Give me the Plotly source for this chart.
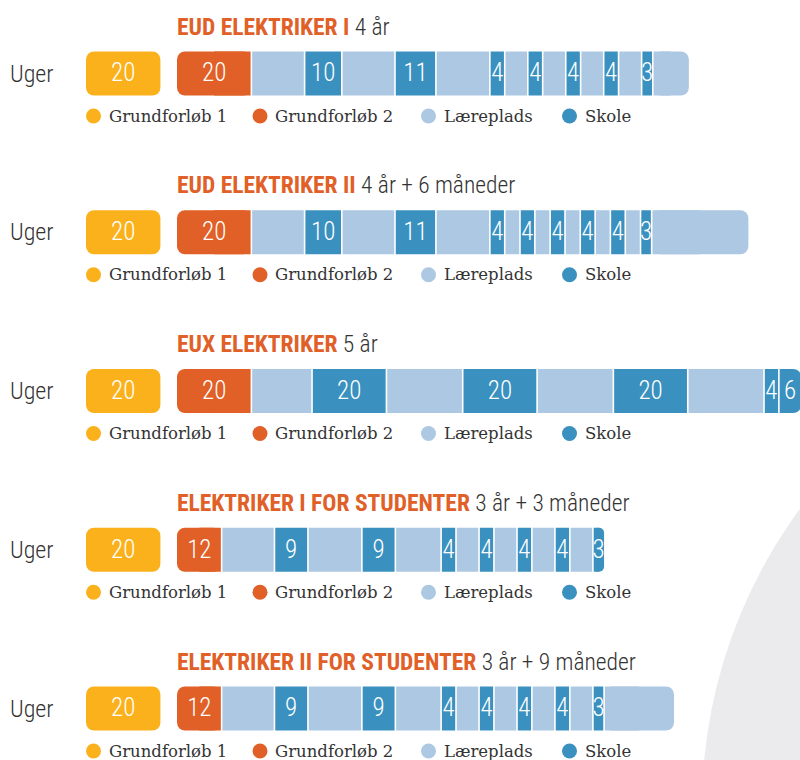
import plotly.graph_objects as go

# ---------------- data ----------------
programs = ["EUD ELEKTRIKER I", "EUD ELEKTRIKER II", "EUX ELEKTRIKER",
            "ELEKTRIKER I FOR STUDENTER", "ELEKTRIKER II FOR STUDENTER"]
durations = ["4 år", "4 år + 6 måneder", "5 år", "3 år + 3 måneder", "3 år + 9 måneder"]
row_label = "Uger"
legend_labels = ["Grundforløb 1", "Grundforløb 2", "Læreplads", "Skole"]

grundforloeb1 = [20, 20, 20, 20, 20]
grundforloeb2 = [20, 20, 20, 12, 12]

# after Grundforløb 2: L = Læreplads, S = Skole (weeks)
eud1_kinds = ["L", "S", "L", "S", "L", "S", "L", "S", "L", "S", "L", "S", "L", "S", "L"]
eud1_weeks = [14.3, 10, 14.3, 11, 14.5, 4, 6.2, 4, 6.2, 4, 6.2, 4, 6.2, 3, 9.7]

eud2_kinds = ["L", "S", "L", "S", "L", "S", "L", "S", "L", "S", "L", "S", "L", "S", "L", "S", "L"]
eud2_weeks = [14.3, 10, 14.3, 11, 14.5, 4, 4.1, 4, 4.1, 4, 4.1, 4, 4.1, 4, 4.1, 3, 26.0]

eux_kinds = ["L", "S", "L", "S", "L", "S", "L", "S", "S"]
eux_weeks = [16.3, 20, 20.5, 20, 20.5, 20, 20.5, 4, 6]

stud1_kinds = ["L", "S", "L", "S", "L", "S", "L", "S", "L", "S", "L", "S", "L", "S"]
stud1_weeks = [14.2, 9, 14.5, 9, 12.3, 4, 6.2, 4, 6.2, 4, 6.2, 4, 6.2, 3]

stud2_kinds = ["L", "S", "L", "S", "L", "S", "L", "S", "L", "S", "L", "S", "L", "S", "L"]
stud2_weeks = [14.2, 9, 14.5, 9, 12.3, 4, 6.2, 4, 6.2, 4, 6.2, 4, 6.2, 3, 18.8]

row_kinds = [eud1_kinds, eud2_kinds, eux_kinds, stud1_kinds, stud2_kinds]
row_weeks = [eud1_weeks, eud2_weeks, eux_weeks, stud1_weeks, stud2_weeks]

# ---------------- style ----------------
YELLOW = "#fbb11c"
ORANGE = "#e06027"
LIGHT = "#adc8e2"
BLUE = "#3a90bf"
DARK = "#333333"
ARC = "#ebebed"
KIND_COLOR = {"L": LIGHT, "S": BLUE}

W, H = 800, 760
PX_PER_WEEK = 3.72
X0_PX = 86            # left edge of Grundforløb 1 box
STACK_PX = 177        # left edge of the stacked bar
ROW0_PX = 73.5
ROW_PX = 158.75
BAR_PX = 44
RADIUS = 8

COND = "Roboto Condensed, Liberation Sans Narrow, DejaVu Sans Condensed, sans-serif"
SERIF = "Roboto Slab, DejaVu Serif, Liberation Serif, serif"


def xw(px):
    return (px - X0_PX) / PX_PER_WEEK


def dy(px):
    return px / ROW_PX


START = xw(STACK_PX)
BAR_W = BAR_PX / ROW_PX
rows = list(range(len(programs)))
common = dict(orientation="h", width=BAR_W, hoverinfo="skip", showlegend=False)

fig = go.Figure()

# Grundforløb 1 (rounded both ends)
fig.add_bar(y=rows, x=grundforloeb1, base=[0] * len(rows),
            marker=dict(color=YELLOW, cornerradius=RADIUS, line=dict(width=0)), **common)

# Grundforløb 2: rounded bar, then square cover on its right part
fig.add_bar(y=rows, x=grundforloeb2, base=[START] * len(rows),
            marker=dict(color=ORANGE, cornerradius=RADIUS, line=dict(width=0)), **common)
fig.add_bar(y=rows, x=[v / 2 for v in grundforloeb2], base=[START + v / 2 for v in grundforloeb2],
            marker=dict(color=ORANGE, cornerradius=0, line=dict(width=0)), **common)

mid = {"L": dict(y=[], x=[], base=[]), "S": dict(y=[], x=[], base=[])}
last = dict(y=[], x=[], base=[], color=[])
lab_x, lab_y, lab_t = [], [], []
sep_x, sep_y = [], []

for r in rows:
    lab_x += [grundforloeb1[r] / 2, START + grundforloeb2[r] / 2]
    lab_y += [r, r]
    lab_t += [str(grundforloeb1[r]), str(grundforloeb2[r])]
    cum = START + grundforloeb2[r]
    kinds, weeks = row_kinds[r], row_weeks[r]
    for j, (k, v) in enumerate(zip(kinds, weeks)):
        sep_x.append(cum)
        sep_y.append(r)
        if j == len(kinds) - 1:
            last["y"].append(r)
            last["x"].append(v)
            last["base"].append(cum)
            last["color"].append(KIND_COLOR[k])
        else:
            mid[k]["y"].append(r)
            mid[k]["x"].append(v)
            mid[k]["base"].append(cum)
        if k == "S":
            lab_x.append(cum + v / 2)
            lab_y.append(r)
            lab_t.append(f"{v:g}")
        cum += v

for k in ("L", "S"):
    fig.add_bar(y=mid[k]["y"], x=mid[k]["x"], base=mid[k]["base"],
                marker=dict(color=KIND_COLOR[k], cornerradius=0, line=dict(width=0)), **common)
# last segment: rounded bar, then square cover on its left half
fig.add_bar(y=last["y"], x=last["x"], base=last["base"],
            marker=dict(color=last["color"], cornerradius=RADIUS, line=dict(width=0)), **common)
fig.add_bar(y=last["y"], x=[v / 2 for v in last["x"]], base=last["base"],
            marker=dict(color=last["color"], cornerradius=0, line=dict(width=0)), **common)

# white separators between segments
fig.add_scatter(x=sep_x, y=sep_y, mode="markers", cliponaxis=True,
                marker=dict(symbol="line-ns", size=BAR_PX, line=dict(width=1.6, color="white")),
                hoverinfo="skip", showlegend=False)

fig.add_scatter(x=lab_x, y=[v + dy(1.5) for v in lab_y], text=lab_t, mode="text", cliponaxis=False,
                textfont=dict(family=COND, size=25, color="white", weight=300),
                hoverinfo="skip", showlegend=False)

# legend markers per row
LEG_MARK_PX = [93.5, 260, 428.5, 569.5]
LEG_TEXT_PX = [107, 273, 442, 583]
LEG_COLORS = [YELLOW, ORANGE, LIGHT, BLUE]
LEG_DY = 42.5
lx, ly, lc = [], [], []
for r in rows:
    for i in range(4):
        lx.append(xw(LEG_MARK_PX[i]))
        ly.append(r + dy(LEG_DY))
        lc.append(LEG_COLORS[i])
fig.add_scatter(x=lx, y=ly, mode="markers", cliponaxis=False,
                marker=dict(size=15, color=lc, line=dict(width=0)),
                hoverinfo="skip", showlegend=False)

annotations = []
for r in rows:
    annotations.append(dict(
        x=xw(STACK_PX - 2), y=r - dy(47), xref="x", yref="y", xanchor="left", yanchor="middle",
        showarrow=False,
        text=(f"<b>{programs[r]}</b> "
              f"<span style='color:{DARK};font-weight:300'>{durations[r]}</span>"),
        font=dict(family=COND, size=23.5, color=ORANGE)))
    annotations.append(dict(
        x=xw(8), y=r, xref="x", yref="y", xanchor="left", yanchor="middle",
        showarrow=False, text=row_label,
        font=dict(family=COND, size=24, color=DARK, weight=300)))
    for i in range(4):
        annotations.append(dict(
            x=xw(LEG_TEXT_PX[i]), y=r + dy(LEG_DY), xref="x", yref="y",
            xanchor="left", yanchor="middle", showarrow=False,
            text=legend_labels[i], font=dict(family=SERIF, size=16.5, color=DARK)))

# background arc (lower right)
shapes = [dict(type="circle", xref="paper", yref="paper", layer="below",
               x0=(1205 - 503) / W, x1=(1205 + 503) / W,
               y0=1 - (807 + 503) / H, y1=1 - (807 - 503) / H,
               fillcolor=ARC, line=dict(width=0))]

fig.update_layout(
    width=W, height=H, margin=dict(l=0, r=0, t=0, b=0),
    paper_bgcolor="white", plot_bgcolor="rgba(0,0,0,0)",
    barmode="overlay",
    xaxis=dict(range=[xw(0), xw(W)], visible=False, fixedrange=True),
    yaxis=dict(range=[(H - ROW0_PX) / ROW_PX, -ROW0_PX / ROW_PX], visible=False, fixedrange=True),
    annotations=annotations, shapes=shapes, showlegend=False,
)

fig.write_html("out.html", config={"displayModeBar": False},
               post_script="document.body.style.margin='0';document.body.style.overflow='hidden';")
